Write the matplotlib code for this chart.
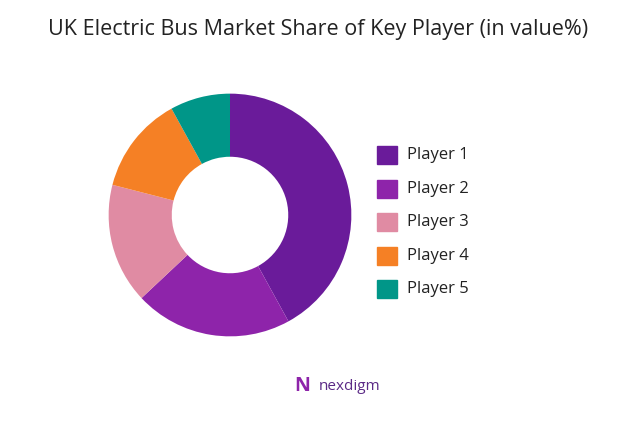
import matplotlib
matplotlib.use("Agg")
import matplotlib.pyplot as plt
from matplotlib.patches import Rectangle

plt.rcParams['font.family'] = ['Open Sans', 'DejaVu Sans']

labels = ["Player 1", "Player 2", "Player 3", "Player 4", "Player 5"]
values = [42, 21, 16, 13, 8]
colors = ["#6A1B9A", "#8E24AA", "#E08BA3", "#F58025", "#009688"]

fig = plt.figure(figsize=(6.37, 4.21), dpi=100)
fig.text(0.5, 1 - 30 / 421, "UK Electric Bus Market Share of Key Player (in value%)",
         ha="center", va="center", fontsize=15.5, color="#222222")

ax = fig.add_axes([230/637 - 125/637, 1 - (215 + 125)/421, 250/637, 250/421])
ax.pie(values, colors=colors, startangle=90, counterclock=False,
       wedgeprops=dict(width=0.52, edgecolor="none"))
ax.set_xlim(-1.03, 1.03)
ax.set_ylim(-1.03, 1.03)
ax.set_aspect("equal")

lx, ly0, dy = 377, 155, 33.5
for i, (lab, c) in enumerate(zip(labels, colors)):
    y = ly0 + i * dy
    fig.patches.append(Rectangle((lx / 637, 1 - (y + 9) / 421), 20 / 637, 18 / 421,
                                 transform=fig.transFigure, color=c))
    fig.text((lx + 30) / 637, 1 - y / 421, lab, ha="left", va="center",
             fontsize=12, color="#222222")

fig.text(0.5, 1 - 386 / 421, "nexdigm", ha="left", va="center",
         fontsize=11, color="#5B2A86")
fig.text(0.475, 1 - 386 / 421, "N", ha="center", va="center",
         fontsize=14, color="#8E24AA", fontweight="bold")

fig.savefig("out.png", dpi=100, facecolor="white")
